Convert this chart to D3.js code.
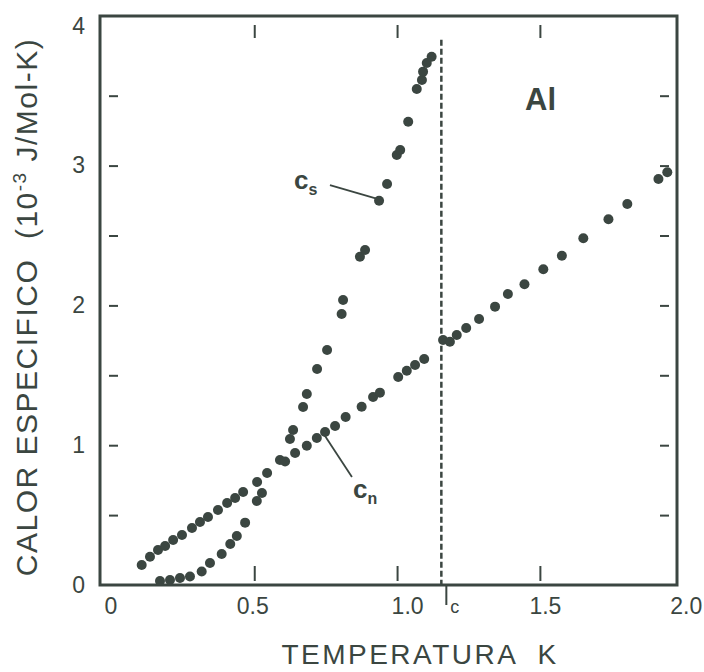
<!DOCTYPE html>
<html>
<head>
<meta charset="utf-8">
<script src="https://cdn.jsdelivr.net/npm/d3@7"></script>
<style>
  body { margin: 0; background: #ffffff; }
  svg { display: block; font-family: "Liberation Sans", Arial, Helvetica, sans-serif; }
</style>
</head>
<body>
<svg id="chart" width="704" height="672"></svg>
<script>
// Normal state specific heat c_n (T in K, C in 10^-3 J/Mol-K)
var cnT = [0.106, 0.135, 0.163, 0.188, 0.216, 0.247, 0.282, 0.310, 0.338, 0.373,
           0.405, 0.433, 0.461, 0.510, 0.545, 0.590, 0.643, 0.684, 0.719, 0.748,
           0.783, 0.820, 0.876, 0.916, 0.940, 1.004, 1.034, 1.063, 1.095,
           1.161, 1.185, 1.209, 1.242, 1.287, 1.343, 1.388, 1.446, 1.512, 1.577,
           1.652, 1.740, 1.806, 1.915, 1.946];
var cnC = [0.143, 0.202, 0.250, 0.279, 0.322, 0.358, 0.408, 0.451, 0.486, 0.536,
           0.587, 0.622, 0.665, 0.737, 0.801, 0.894, 0.944, 0.996, 1.052, 1.094,
           1.137, 1.202, 1.275, 1.345, 1.376, 1.488, 1.533, 1.574, 1.617,
           1.753, 1.740, 1.788, 1.838, 1.903, 1.991, 2.082, 2.151, 2.258, 2.355,
           2.480, 2.616, 2.725, 2.904, 2.952];

// Superconducting state specific heat c_s
var csT = [0.170, 0.205, 0.240, 0.275, 0.316, 0.345, 0.386, 0.416, 0.439, 0.468,
           0.509, 0.527, 0.608, 0.625, 0.636, 0.671, 0.684, 0.720, 0.755, 0.806,
           0.811, 0.870, 0.888, 0.937, 0.965, 0.999, 1.011, 1.039, 1.069, 1.087,
           1.091, 1.104, 1.121];
var csC = [0.029, 0.036, 0.050, 0.061, 0.097, 0.157, 0.222, 0.293, 0.350, 0.446,
           0.601, 0.658, 0.883, 1.044, 1.109, 1.273, 1.366, 1.545, 1.681, 1.938,
           2.039, 2.348, 2.396, 2.749, 2.868, 3.076, 3.112, 3.314, 3.548, 3.612,
           3.672, 3.734, 3.779];

// Critical temperature and axis ticks
var tc = 1.155;
var xTickValues = [0, 0.5, 1.0, 1.5, 2.0];
var xTickLabels = ["0", "0.5", "1.0", "1.5", "2.0"];
var yTickValues = [0, 1, 2, 3, 4];
var yTickLabels = ["0", "1", "2", "3", "4"];
var minorX = [0.5, 1.0, 1.5];
var minorY = [0.5, 1, 1.5, 2, 2.5, 3, 3.5];

var ink = "#3b4641";
var svg = d3.select("#chart");

var x = d3.scaleLinear().domain([-0.04, 1.98]).range([100, 677]);
var y = d3.scaleLinear().domain([0, 4.07]).range([585, 16]);

// frame
svg.append("rect")
   .attr("x", x(-0.04)).attr("y", y(4.07))
   .attr("width", x(1.98) - x(-0.04)).attr("height", y(0) - y(4.07))
   .attr("fill", "none").attr("stroke", ink).attr("stroke-width", 3);

// inner tick marks (short, slightly detached from frame)
function tickGroup(axis, tx, ty) {
  var g = svg.append("g").attr("transform", "translate(" + tx + "," + ty + ")").call(axis);
  g.select(".domain").remove();
  g.selectAll("line").attr("stroke", ink).attr("stroke-width", 2);
  g.selectAll("text").remove();
  return g;
}
tickGroup(d3.axisLeft(y).tickValues(minorY).tickSize(-9), 109, 0);
tickGroup(d3.axisRight(y).tickValues(minorY).tickSize(-9), 669, 0);
tickGroup(d3.axisTop(x).tickValues(minorX).tickSize(-13), 0, 25);
tickGroup(d3.axisBottom(x).tickValues(minorX).tickSize(-15), 0, 581);

// tick labels
var xShift = [-1, -2, 10, 5, 3];
var gx = svg.append("g").attr("transform", "translate(0," + (y(0) + 1) + ")")
   .call(d3.axisBottom(x).tickValues(xTickValues).tickSize(0).tickPadding(12)
        .tickFormat(function(d, i) { return xTickLabels[i]; }));
gx.select(".domain").remove();
gx.selectAll("text").attr("fill", ink).style("font-size", "23px")
   .attr("dx", function(d, i) { return xShift[i]; });

var gy = svg.append("g").attr("transform", "translate(89,0)")
   .call(d3.axisLeft(y).tickValues(yTickValues).tickSize(0).tickPadding(4)
        .tickFormat(function(d, i) { return yTickLabels[i]; }));
gy.select(".domain").remove();
gy.selectAll("text").attr("fill", ink).style("font-size", "23px");

// Tc dashed line and marker
svg.append("line")
   .attr("x1", x(tc)).attr("x2", x(tc))
   .attr("y1", y(3.90)).attr("y2", y(0))
   .attr("stroke", ink).attr("stroke-width", 2.5)
   .attr("stroke-dasharray", "6,3");
svg.append("line")
   .attr("x1", x(tc) + 5).attr("x2", x(tc) + 5)
   .attr("y1", y(0)).attr("y2", y(0) + 20)
   .attr("stroke", ink).attr("stroke-width", 2);
svg.append("text")
   .attr("x", x(tc) + 9).attr("y", y(0) + 28)
   .attr("fill", ink).style("font-size", "18px").text("c");

// data points
var cnData = d3.zip(cnT, cnC);
var csData = d3.zip(csT, csC);
svg.append("g").selectAll("circle").data(cnData).enter().append("circle")
   .attr("cx", function(d) { return x(d[0]); })
   .attr("cy", function(d) { return y(d[1]); })
   .attr("r", 5).attr("fill", ink);
svg.append("g").selectAll("circle").data(csData).enter().append("circle")
   .attr("cx", function(d) { return x(d[0]); })
   .attr("cy", function(d) { return y(d[1]); })
   .attr("r", 5).attr("fill", ink);

// curve labels with leader lines
svg.append("line")
   .attr("x1", x(0.765)).attr("y1", y(2.861))
   .attr("x2", x(0.934)).attr("y2", y(2.76))
   .attr("stroke", ink).attr("stroke-width", 1.8);
svg.append("line")
   .attr("x1", x(0.741)).attr("y1", y(1.087))
   .attr("x2", x(0.842)).attr("y2", y(0.773))
   .attr("stroke", ink).attr("stroke-width", 1.8);

var lcs = svg.append("text").attr("x", x(0.639)).attr("y", y(2.83))
   .attr("fill", ink).style("font-size", "26px").style("font-weight", "bold");
lcs.append("tspan").text("c");
lcs.append("tspan").attr("dy", 6).style("font-size", "16px").text("s");

var lcn = svg.append("text").attr("x", x(0.846)).attr("y", y(0.62))
   .attr("fill", ink).style("font-size", "26px").style("font-weight", "bold");
lcn.append("tspan").text("c");
lcn.append("tspan").attr("dy", 6).style("font-size", "16px").text("n");

svg.append("text").attr("x", x(1.448)).attr("y", y(3.40))
   .attr("fill", ink).style("font-size", "31px").style("font-weight", "bold")
   .text("Al");

// axis titles
svg.append("text")
   .attr("x", 420).attr("y", 664).attr("text-anchor", "middle")
   .attr("fill", ink).style("font-size", "28px").style("letter-spacing", "2.5px")
   .attr("xml:space", "preserve")
   .text("TEMPERATURA  K");

var yt = svg.append("text")
   .attr("transform", "translate(37,307) rotate(-90)")
   .attr("text-anchor", "middle").attr("fill", ink)
   .style("font-size", "30px").style("letter-spacing", "1.5px")
   .attr("xml:space", "preserve");
yt.append("tspan").text("CALOR ESPECIFICO  (10");
yt.append("tspan").attr("dy", -11).style("font-size", "19px").text("-3");
yt.append("tspan").attr("dy", 11).text(" J/Mol-K)");
</script>
</body>
</html>
